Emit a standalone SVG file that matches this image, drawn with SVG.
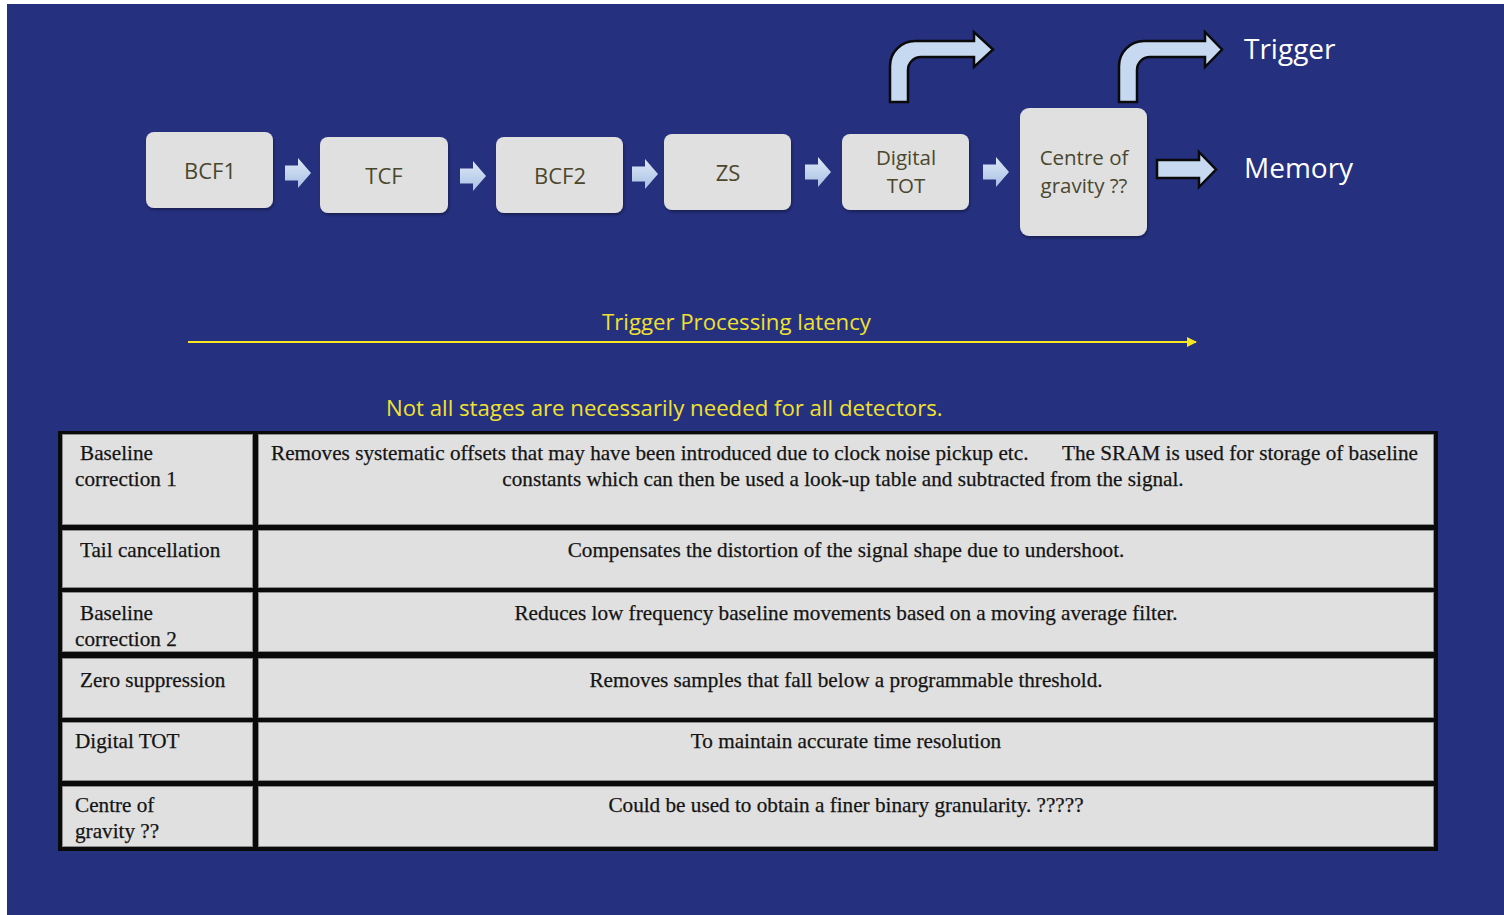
<svg xmlns="http://www.w3.org/2000/svg" width="1504" height="915" viewBox="0 0 1504 915">
  <defs>
    <style>
      .stage { fill: #E0E0E0; filter: url(#shadow); }
      .stage-label { font-family: "Open Sans", "Noto Sans", sans-serif; font-size: 22px; fill: #4B472D; text-anchor: middle; }
      .stage-label.two-line { font-size: 20.5px; }
      .out-label { font-family: "Open Sans", "Noto Sans", sans-serif; font-size: 28px; fill: #FFFFFF; }
      .note { font-family: "Open Sans", "Noto Sans", sans-serif; font-size: 22.2px; fill: #F0E130; }
      .step { fill: url(#stepFill); }
      .route { fill: #C6D9F0; stroke: #0A0A0A; stroke-width: 2.5; stroke-linejoin: miter; }
      .cell { fill: #E0E0E0; stroke: #8C8C8C; stroke-width: 1; }
      .cell-text { font-family: "Liberation Serif", "Times New Roman", serif; font-size: 21.2px; fill: #141414; stroke: #141414; stroke-width: 0.25; }
      .mid { text-anchor: middle; }
    </style>
    <filter id="shadow" x="-10%" y="-10%" width="125%" height="130%">
      <feDropShadow dx="1" dy="2" stdDeviation="1.5" flood-color="#000000" flood-opacity="0.35"/>
    </filter>
    <linearGradient id="stepFill" x1="0" y1="0" x2="0" y2="1">
      <stop offset="0" stop-color="#DDE7F5"/>
      <stop offset="0.5" stop-color="#C3D5EE"/>
      <stop offset="1" stop-color="#A6BEE2"/>
    </linearGradient>
    <!-- small block arrow between stages, origin at left edge / vertical centre -->
    <path id="step-arrow" d="M0,-7.5 H13 V-15 L26,0 L13,15 V7.5 H0 Z"/>
    <marker id="latency-head" viewBox="0 0 10 10" refX="9" refY="5" markerWidth="5" markerHeight="5" orient="auto" markerUnits="strokeWidth">
      <path d="M0,0 L10,5 L0,10 Z" fill="#F5E61E"/>
    </marker>
  </defs>

  <!-- page background -->
  <rect x="0" y="0" width="1504" height="915" fill="#FFFFFF"/>
  <rect x="7" y="4" width="1497" height="911" fill="#25307F"/>

  <!-- processing stages -->
  <g id="node-bcf1">
    <rect class="stage" x="146" y="132" width="127" height="76" rx="8"/>
    <text class="stage-label" x="210" y="179">BCF1</text>
  </g>
  <g id="node-tcf">
    <rect class="stage" x="320" y="137" width="128" height="76" rx="8"/>
    <text class="stage-label" x="384" y="184">TCF</text>
  </g>
  <g id="node-bcf2">
    <rect class="stage" x="496" y="137" width="127" height="76" rx="8"/>
    <text class="stage-label" x="560" y="184">BCF2</text>
  </g>
  <g id="node-zs">
    <rect class="stage" x="664" y="134" width="127" height="76" rx="8"/>
    <text class="stage-label" x="728" y="181">ZS</text>
  </g>
  <g id="node-digital-tot">
    <rect class="stage" x="842" y="134" width="127" height="76" rx="8"/>
    <text class="stage-label two-line" x="906" y="165">Digital<tspan x="906" dy="28">TOT</tspan></text>
  </g>
  <g id="node-cog">
    <rect class="stage" x="1020" y="108" width="127" height="128" rx="9"/>
    <text class="stage-label two-line" x="1084" y="165">Centre of<tspan x="1084" dy="28">gravity ??</tspan></text>
  </g>
  <g id="node-trigger">
    <text class="out-label" x="1244" y="59">Trigger</text>
  </g>
  <g id="node-memory">
    <text class="out-label" x="1244" y="178">Memory</text>
  </g>

  <!-- connectors -->
  <g id="connectors">
    <use href="#step-arrow" class="step" x="285" y="173"/>
    <use href="#step-arrow" class="step" x="460" y="176"/>
    <use href="#step-arrow" class="step" x="632" y="174"/>
    <use href="#step-arrow" class="step" x="805" y="172"/>
    <use href="#step-arrow" class="step" x="983" y="172"/>
    <!-- bent outputs to trigger -->
    <path class="route" d="M890,102 V66 A25,25 0 0 1 915,41 H974 V32 L993,49.5 L974,67 V57 H921 A13,13 0 0 0 908,70 V102 Z"/>
    <path class="route" d="M1119,102 V66 A25,25 0 0 1 1144,41 H1205 V32 L1222,49.5 L1205,67 V57 H1150 A13,13 0 0 0 1137,70 V102 Z"/>
    <!-- output to memory -->
    <path class="route" d="M1157,160 H1199 V152 L1216,169.5 L1199,187 V178 H1157 Z"/>
    <!-- latency span -->
    <line x1="188" y1="342" x2="1196" y2="342" stroke="#F5E61E" stroke-width="2" marker-end="url(#latency-head)"/>
  </g>

  <text class="note" x="602" y="330">Trigger Processing latency</text>
  <text class="note" x="386" y="416">Not all stages are necessarily needed for all detectors.</text>

  <!-- stage description table -->
  <g id="table">
    <rect x="58" y="431" width="1380" height="420" fill="#0A0A0A"/>
    <rect class="cell" x="62.5" y="434.5" width="190" height="90"/>
    <rect class="cell" x="258.5" y="434.5" width="1175" height="90"/>
    <rect class="cell" x="62.5" y="530.5" width="190" height="57"/>
    <rect class="cell" x="258.5" y="530.5" width="1175" height="57"/>
    <rect class="cell" x="62.5" y="592.5" width="190" height="59"/>
    <rect class="cell" x="258.5" y="592.5" width="1175" height="59"/>
    <rect class="cell" x="62.5" y="658.5" width="190" height="59"/>
    <rect class="cell" x="258.5" y="658.5" width="1175" height="59"/>
    <rect class="cell" x="62.5" y="722.5" width="190" height="58"/>
    <rect class="cell" x="258.5" y="722.5" width="1175" height="58"/>
    <rect class="cell" x="62.5" y="786.5" width="190" height="60"/>
    <rect class="cell" x="258.5" y="786.5" width="1175" height="60"/>

    <text class="cell-text" x="80" y="460">Baseline<tspan x="75" dy="26">correction 1</tspan></text>
    <text class="cell-text" x="271" y="460">Removes systematic offsets that may have been introduced due to clock noise pickup etc.</text>
    <text class="cell-text" x="1418" y="460" text-anchor="end">The SRAM is used for storage of baseline</text>
    <text class="cell-text mid" x="843" y="486">constants which can then be used a look-up table and subtracted from the signal.</text>

    <text class="cell-text" x="80" y="557">Tail cancellation</text>
    <text class="cell-text mid" x="846" y="557">Compensates the distortion of the signal shape due to undershoot.</text>

    <text class="cell-text" x="80" y="620">Baseline<tspan x="75" dy="26">correction 2</tspan></text>
    <text class="cell-text mid" x="846" y="620">Reduces low frequency baseline movements based on a moving average filter.</text>

    <text class="cell-text" x="80" y="687">Zero suppression</text>
    <text class="cell-text mid" x="846" y="687">Removes samples that fall below a programmable threshold.</text>

    <text class="cell-text" x="75" y="748">Digital TOT</text>
    <text class="cell-text mid" x="846" y="748">To maintain accurate time resolution</text>

    <text class="cell-text" x="75" y="812">Centre of<tspan x="75" dy="26">gravity ??</tspan></text>
    <text class="cell-text mid" x="846" y="812">Could be used to obtain a finer binary granularity. ?????</text>
  </g>
</svg>
